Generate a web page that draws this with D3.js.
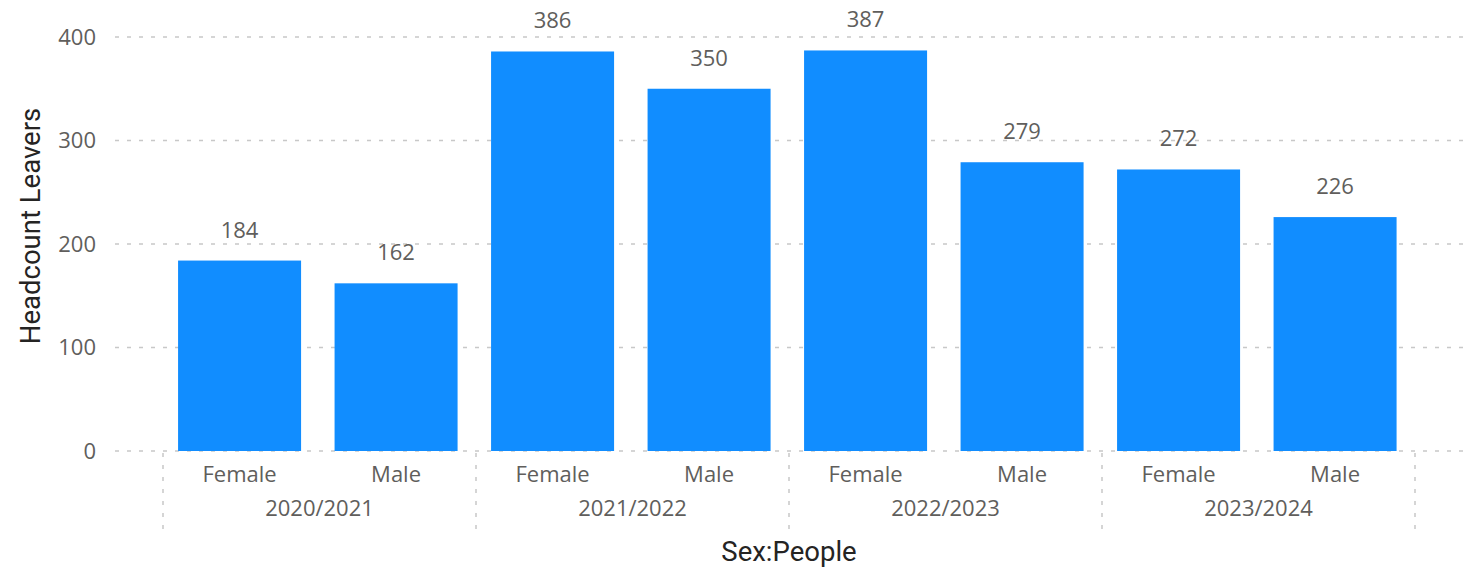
<!DOCTYPE html>
<html><head><meta charset="utf-8">
<script src="https://cdn.jsdelivr.net/npm/d3@7"></script>
<style>body{margin:0;background:#fff}text{font-family:"Segoe UI","Open Sans","Noto Sans",sans-serif}</style>
</head><body><svg id="c" width="1483" height="571"></svg>
<script>
const years = ["2020/2021","2021/2022","2022/2023","2023/2024"];
const sexes = ["Female","Male"];
const femaleValues = [184,386,387,272];
const maleValues = [162,350,279,226];
const yTicks = [0,100,200,300,400];

(function(){
const data = [];
years.forEach((yr,i)=>{ data.push({year:yr,sex:"Female",v:femaleValues[i]}); data.push({year:yr,sex:"Male",v:maleValues[i]}); });

const svg = d3.select("#c");
const pL = 163, pR = 1415, pT = 37, pB = 451;
const y = d3.scaleLinear().domain([0,400]).range([pB, pT]);
const x0 = d3.scaleBand().domain(years).range([pL,pR]).padding(0);
const x1 = d3.scaleBand().domain(sexes).range([0,x0.bandwidth()]).paddingInner(0.214).paddingOuter(0.107).align(0.45);

svg.append("g").selectAll("line").data(yTicks).join("line")
  .attr("x1",115).attr("x2",1463).attr("y1",d=>y(d)).attr("y2",d=>y(d))
  .attr("stroke","#C8C8C8").attr("stroke-width",1.5).attr("stroke-dasharray","4,8");

svg.append("g").selectAll("text").data(yTicks).join("text")
  .attr("x",96).attr("y",d=>y(d)).attr("dy","0.35em").attr("text-anchor","end")
  .attr("fill","#605E5C").attr("font-size",22).text(d=>d);

svg.append("g").selectAll("rect").data(data).join("rect")
  .attr("x",d=>x0(d.year)+x1(d.sex)).attr("width",x1.bandwidth())
  .attr("y",d=>y(d.v)).attr("height",d=>y(0)-y(d.v)).attr("fill","#118DFF");

svg.append("g").selectAll("text").data(data).join("text")
  .attr("x",d=>x0(d.year)+x1(d.sex)+x1.bandwidth()/2).attr("y",d=>y(d.v)-23)
  .attr("text-anchor","middle").attr("fill","#605E5C").attr("font-size",22).text(d=>d.v);

const seps = years.map(d=>x0(d)).concat([pR]);
svg.append("g").selectAll("line").data(seps).join("line")
  .attr("x1",d=>d).attr("x2",d=>d).attr("y1",pB+2).attr("y2",529)
  .attr("stroke","#C8C8C8").attr("stroke-width",1.5).attr("stroke-dasharray","4,8");

svg.append("g").selectAll("text").data(data).join("text")
  .attr("x",d=>x0(d.year)+x1(d.sex)+x1.bandwidth()/2).attr("y",482)
  .attr("text-anchor","middle").attr("fill","#605E5C").attr("font-size",22).text(d=>d.sex);
svg.append("g").selectAll("text").data(years).join("text")
  .attr("x",d=>x0(d)+x0.bandwidth()/2).attr("y",516)
  .attr("text-anchor","middle").attr("fill","#605E5C").attr("font-size",22).text(d=>d);

svg.append("text").attr("x",(pL+pR)/2).attr("y",561).attr("text-anchor","middle")
  .attr("fill","#252423").attr("font-size",27.5).style("font-family","Roboto, sans-serif").text("Sex:People");
svg.append("text").attr("transform",`translate(40,226) rotate(-90)`).attr("text-anchor","middle")
  .attr("fill","#252423").attr("font-size",27.5).style("font-family","Roboto, sans-serif").text("Headcount Leavers");
})();
</script></body></html>
